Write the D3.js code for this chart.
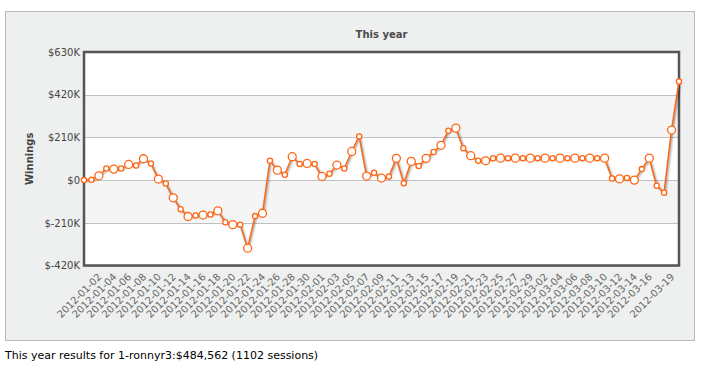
<!DOCTYPE html>
<html>
<head>
<meta charset="utf-8">
<script src="https://cdn.jsdelivr.net/npm/d3@7"></script>
<style>
  body { margin: 0; background: #fff; }
  text { font-family: "DejaVu Sans", Verdana, sans-serif; }
</style>
</head>
<body>
<div id="chart"></div>
<script>
// cumulative winnings in $K, one value per day starting 2011-12-31
const startDay = '2011-12-31';
const winnings = [
  0, 2, 21, 57, 54, 57, 77, 72, 105, 82,
  5, -17, -87, -143, -179, -174, -172, -169, -151, -207,
  -219, -219, -335, -177, -163, 95, 49, 26, 115, 79,
  82, 79, 18, 31, 74, 57, 141, 215, 20, 36,
  10, 18, 107, -15, 92, 69, 107, 138, 171, 243,
  256, 157, 120, 95, 95, 108, 108, 108, 108, 108,
  108, 108, 108, 108, 108, 108, 108, 108, 108, 108,
  108, 8, 6, 10, 0, 54, 108, -28, -62, 246,
  484.562
];
const yTicks = [-420, -210, 0, 210, 420, 630];
const xTickLabels = [
  '2012-01-02', '2012-01-04', '2012-01-06', '2012-01-08', '2012-01-10',
  '2012-01-12', '2012-01-14', '2012-01-16', '2012-01-18', '2012-01-20',
  '2012-01-22', '2012-01-24', '2012-01-26', '2012-01-28', '2012-01-30',
  '2012-02-01', '2012-02-03', '2012-02-05', '2012-02-07', '2012-02-09',
  '2012-02-11', '2012-02-13', '2012-02-15', '2012-02-17', '2012-02-19',
  '2012-02-21', '2012-02-23', '2012-02-25', '2012-02-27', '2012-02-29',
  '2012-03-02', '2012-03-04', '2012-03-06', '2012-03-08', '2012-03-10',
  '2012-03-12', '2012-03-14', '2012-03-16', '2012-03-19'
];
const chartTitle = 'This year';
const yTitle = 'Winnings';
const footer = 'This year results for 1-ronnyr3:$484,562 (1102 sessions)';

const W = 704, H = 368;
const plot = {left: 84, right: 679, top: 52, bottom: 265.5};
const orange = '#ff6614';

const parse = d3.utcParse('%Y-%m-%d');
const fmt = d3.utcFormat('%Y-%m-%d');
const start = parse(startDay);
const data = winnings.map((v, i) => ({date: d3.utcDay.offset(start, i), value: v}));
const tickSet = new Set(xTickLabels);

const svg = d3.select('#chart').append('svg')
  .attr('width', W)
  .attr('height', H);

// outer panel
svg.append('rect')
  .attr('x', 5.5).attr('y', 11.5)
  .attr('width', 689).attr('height', 329)
  .attr('fill', '#eef0ef')
  .attr('stroke', '#b9b9b9');

svg.append('text')
  .attr('x', (plot.left + plot.right) / 2)
  .attr('y', 37.5)
  .attr('text-anchor', 'middle')
  .attr('font-size', 10)
  .attr('font-weight', 'bold')
  .attr('fill', '#4a4a4a')
  .text(chartTitle);

const x = d3.scaleUtc()
  .domain(d3.extent(data, d => d.date))
  .range([plot.left, plot.right]);

const y = d3.scaleLinear()
  .domain([d3.min(yTicks), d3.max(yTicks)])
  .range([plot.bottom, plot.top]);

// plot background + alternate bands
svg.append('rect')
  .attr('x', plot.left).attr('y', plot.top)
  .attr('width', plot.right - plot.left).attr('height', plot.bottom - plot.top)
  .attr('fill', '#fff');

const bands = d3.pairs(yTicks).filter((p, i) => i % 2 === 1);
svg.selectAll('rect.band')
  .data(bands)
  .join('rect')
  .attr('class', 'band')
  .attr('x', plot.left)
  .attr('width', plot.right - plot.left)
  .attr('y', d => y(d[1]))
  .attr('height', d => y(d[0]) - y(d[1]))
  .attr('fill', '#f5f5f5');

svg.append('g')
  .selectAll('line')
  .data(yTicks)
  .join('line')
  .attr('x1', plot.left).attr('x2', plot.right)
  .attr('y1', d => Math.round(y(d)) + 0.5)
  .attr('y2', d => Math.round(y(d)) + 0.5)
  .attr('stroke', '#c0c0c0');

// y axis labels
const money = d => d === 0 ? '$0' : `$${d}K`;
const yAxis = svg.append('g')
  .attr('transform', `translate(${plot.left - 4},0)`)
  .call(d3.axisLeft(y).tickValues(yTicks).tickFormat(money).tickSize(0).tickPadding(0));
yAxis.select('.domain').remove();
yAxis.selectAll('text')
  .attr('font-size', 10)
  .attr('font-family', '"DejaVu Sans", Verdana, sans-serif')
  .attr('fill', '#444');

svg.append('text')
  .attr('transform', `translate(33,${(plot.top + plot.bottom) / 2})rotate(-90)`)
  .attr('text-anchor', 'middle')
  .attr('font-size', 10)
  .attr('font-weight', 'bold')
  .attr('fill', '#444')
  .text(yTitle);

// x axis labels
const xAxis = svg.append('g')
  .attr('transform', `translate(0,${plot.bottom})`)
  .call(d3.axisBottom(x).tickValues(xTickLabels.map(parse)).tickFormat(fmt).tickSize(0));
xAxis.select('.domain').remove();
xAxis.selectAll('text')
  .attr('font-size', 10)
  .attr('font-family', '"DejaVu Sans", Verdana, sans-serif')
  .attr('fill', '#666')
  .attr('text-anchor', 'end')
  .attr('dy', 0)
  .attr('y', 0)
  .attr('transform', 'translate(3,12)rotate(-45)');

// frame
svg.append('rect')
  .attr('x', plot.left).attr('y', plot.top)
  .attr('width', plot.right - plot.left).attr('height', plot.bottom - plot.top)
  .attr('fill', 'none')
  .attr('stroke', '#555')
  .attr('stroke-width', 2.5);

// line with soft shadow
const line = d3.line()
  .x(d => x(d.date))
  .y(d => y(d.value));

[5, 3, 1].forEach((w, i) => {
  svg.append('path')
    .datum(data)
    .attr('d', line)
    .attr('transform', 'translate(1,1)')
    .attr('fill', 'none')
    .attr('stroke', '#000')
    .attr('stroke-opacity', 0.05 * (i + 1))
    .attr('stroke-width', w)
    .attr('stroke-linejoin', 'round');
});

svg.append('path')
  .datum(data)
  .attr('d', line)
  .attr('fill', 'none')
  .attr('stroke', orange)
  .attr('stroke-width', 1.5)
  .attr('stroke-linejoin', 'round');

svg.selectAll('circle.pt')
  .data(data)
  .join('circle')
  .attr('class', 'pt')
  .attr('cx', d => x(d.date))
  .attr('cy', d => y(d.value))
  .attr('r', d => tickSet.has(fmt(d.date)) ? 4 : 2.6)
  .attr('fill', '#fff')
  .attr('stroke', orange)
  .attr('stroke-width', 1.3);

svg.append('text')
  .attr('x', 5)
  .attr('y', 359)
  .attr('font-size', 11)
  .attr('font-family', '"Liberation Sans", Arial, sans-serif')
  .attr('fill', '#000')
  .text(footer);
</script>
</body>
</html>
